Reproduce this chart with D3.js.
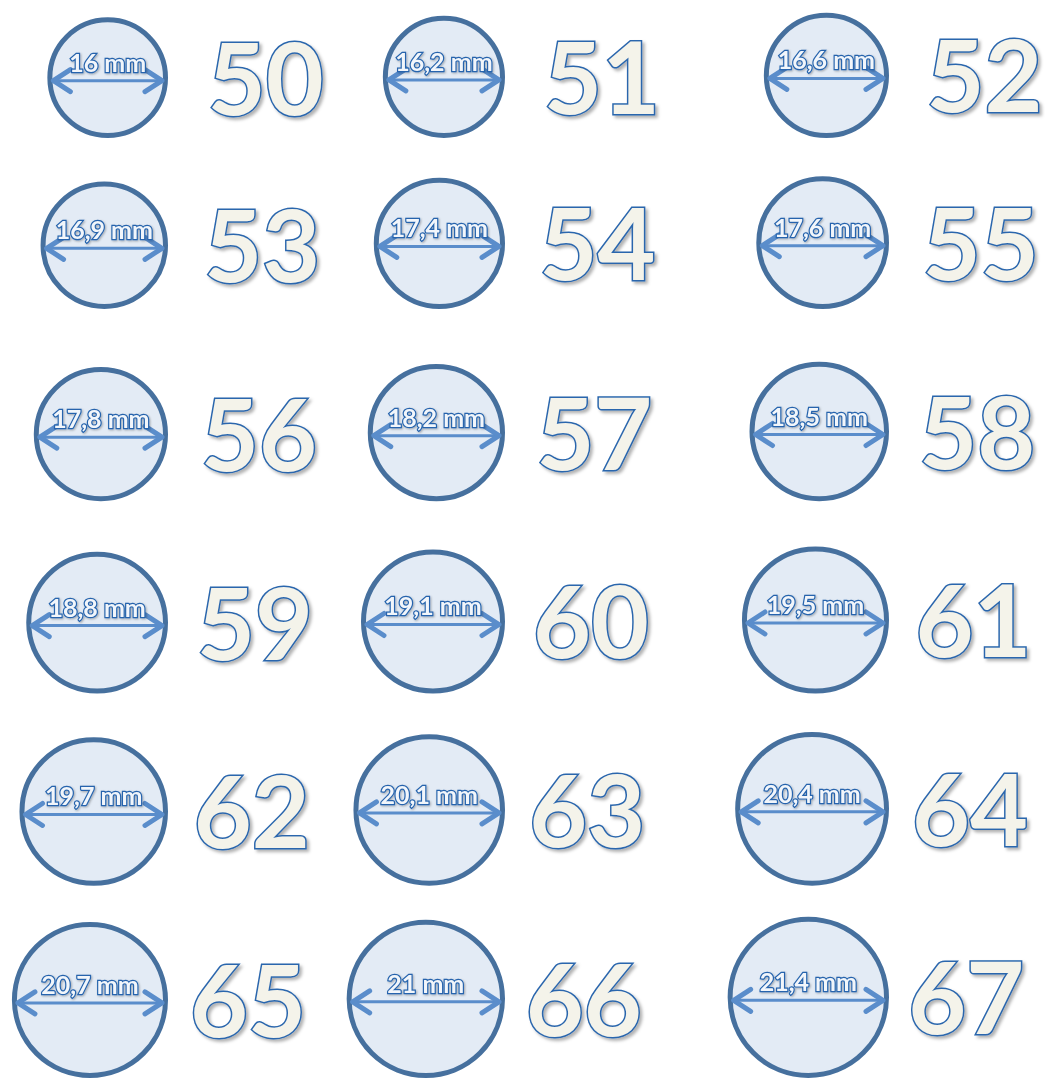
<!DOCTYPE html>
<html>
<head>
<meta charset="utf-8">
<script src="https://cdn.jsdelivr.net/npm/d3@7"></script>
<style>
  html, body { margin: 0; padding: 0; background: #ffffff; }
  svg { display: block; }
  text { font-synthesis: none; font-style: normal; }
</style>
</head>
<body>
<svg id="chart" width="1045" height="1079"></svg>
<script>
// Ring sizes and their inner diameters
const sizes = [50, 51, 52, 53, 54, 55, 56, 57, 58, 59, 60, 61, 62, 63, 64, 65, 66, 67];
const diameters = [16, 16.2, 16.6, 16.9, 17.4, 17.6, 17.8, 18.2, 18.5, 18.8, 19.1, 19.5, 19.7, 20.1, 20.4, 20.7, 21, 21.4];
const diameterLabels = ["16 mm", "16,2 mm", "16,6 mm", "16,9 mm", "17,4 mm", "17,6 mm",
    "17,8 mm", "18,2 mm", "18,5 mm", "18,8 mm", "19,1 mm", "19,5 mm",
    "19,7 mm", "20,1 mm", "20,4 mm", "20,7 mm", "21 mm", "21,4 mm"];

const svg = d3.select("#chart");

// mm -> outer radius in px
const radius = d3.scaleLinear().domain([0, 1]).range([0, 3.77]);
// right edge of each column
const colRight = d3.scaleOrdinal().domain([0, 1, 2]).range([168, 505, 889]);
// bottom edge of each row
const rowBottom = d3.scaleLinear().domain([0, 1, 5]).range([138, 309, 1078]);

const data = sizes.map((s, i) => {
    const r = radius(diameters[i]);
    const col = i % 3, row = Math.floor(i / 3);
    return {
        size: s,
        label: diameterLabels[i],
        r: r,
        cx: colRight(col) - r,
        cy: rowBottom(row) - r
    };
});

const strokeW = 5;
const fontFamily = "Lato";

// Drop shadows for the text
const defs = svg.append("defs");
const shadow = defs.append("filter")
    .attr("id", "shadow")
    .attr("x", "-20%").attr("y", "-20%")
    .attr("width", "140%").attr("height", "140%");
shadow.append("feDropShadow")
    .attr("dx", 2.5).attr("dy", 2.5)
    .attr("stdDeviation", 1.5)
    .attr("flood-color", "#000")
    .attr("flood-opacity", 0.3);

const small = defs.append("filter")
    .attr("id", "shadowSmall")
    .attr("x", "-20%").attr("y", "-30%")
    .attr("width", "140%").attr("height", "160%");
small.append("feDropShadow")
    .attr("dx", 1).attr("dy", 1)
    .attr("stdDeviation", 0.8)
    .attr("flood-color", "#000")
    .attr("flood-opacity", 0.3);

// Ring circles
svg.selectAll("circle.ring")
    .data(data)
    .enter()
    .append("circle")
    .attr("class", "ring")
    .attr("cx", d => d.cx)
    .attr("cy", d => d.cy)
    .attr("r", d => d.r - strokeW / 2)
    .attr("fill", "#e3ebf5")
    .attr("stroke", "#46709e")
    .attr("stroke-width", strokeW);

// Double arrows across the diameter
const arrowColor = "#5a8dcb";
svg.selectAll("line.shaft")
    .data(data)
    .enter()
    .append("line")
    .attr("class", "shaft")
    .attr("x1", d => d.cx - (d.r - strokeW) + 1)
    .attr("x2", d => d.cx + (d.r - strokeW) - 1)
    .attr("y1", d => d.cy + 3)
    .attr("y2", d => d.cy + 3)
    .attr("stroke", arrowColor)
    .attr("stroke-width", 3);

svg.selectAll("path.heads")
    .data(data)
    .enter()
    .append("path")
    .attr("class", "heads")
    .attr("d", d => {
        const x = d.r - strokeW, y = d.cy + 3;
        const l = d.cx - x + 1, rt = d.cx + x - 1;
        return `M${l + 17},${y - 11} L${l},${y} L${l + 17},${y + 11}` +
            ` M${rt - 17},${y - 11} L${rt},${y} L${rt - 17},${y + 11}`;
    })
    .attr("fill", "none")
    .attr("stroke", arrowColor)
    .attr("stroke-width", 5)
    .attr("stroke-linecap", "round")
    .attr("stroke-linejoin", "round");

// Diameter labels
const labels = svg.selectAll("text.mm")
    .data(data)
    .enter()
    .append("text")
    .attr("class", "mm")
    .attr("y", d => d.cy - 6)
    .style("font-family", fontFamily)
    .style("font-weight", 700)
    .style("font-size", "25px")
    .attr("fill", "#f2f6fb")
    .attr("stroke", "#2563ad")
    .attr("stroke-width", 2.4)
    .attr("paint-order", "stroke")
    .attr("filter", "url(#shadowSmall)")
    .text(d => d.label);
labels.attr("x", function (d) { return d.cx - this.getComputedTextLength() / 2; });

// Ring size numbers
const nums = svg.selectAll("text.size")
    .data(data)
    .enter()
    .append("text")
    .attr("class", "size")
    .attr("y", d => d.cy + 37)
    .style("font-family", fontFamily)
    .style("font-weight", 700)
    .style("font-size", "100px")
    .attr("fill", "#f4f3ea")
    .attr("stroke", "#2a66ad")
    .attr("stroke-width", 3)
    .attr("paint-order", "stroke")
    .attr("filter", "url(#shadow)")
    .text(d => d.size);
nums.attr("x", function (d) { return d.cx + 158 - this.getComputedTextLength() / 2; });
</script>
</body>
</html>
